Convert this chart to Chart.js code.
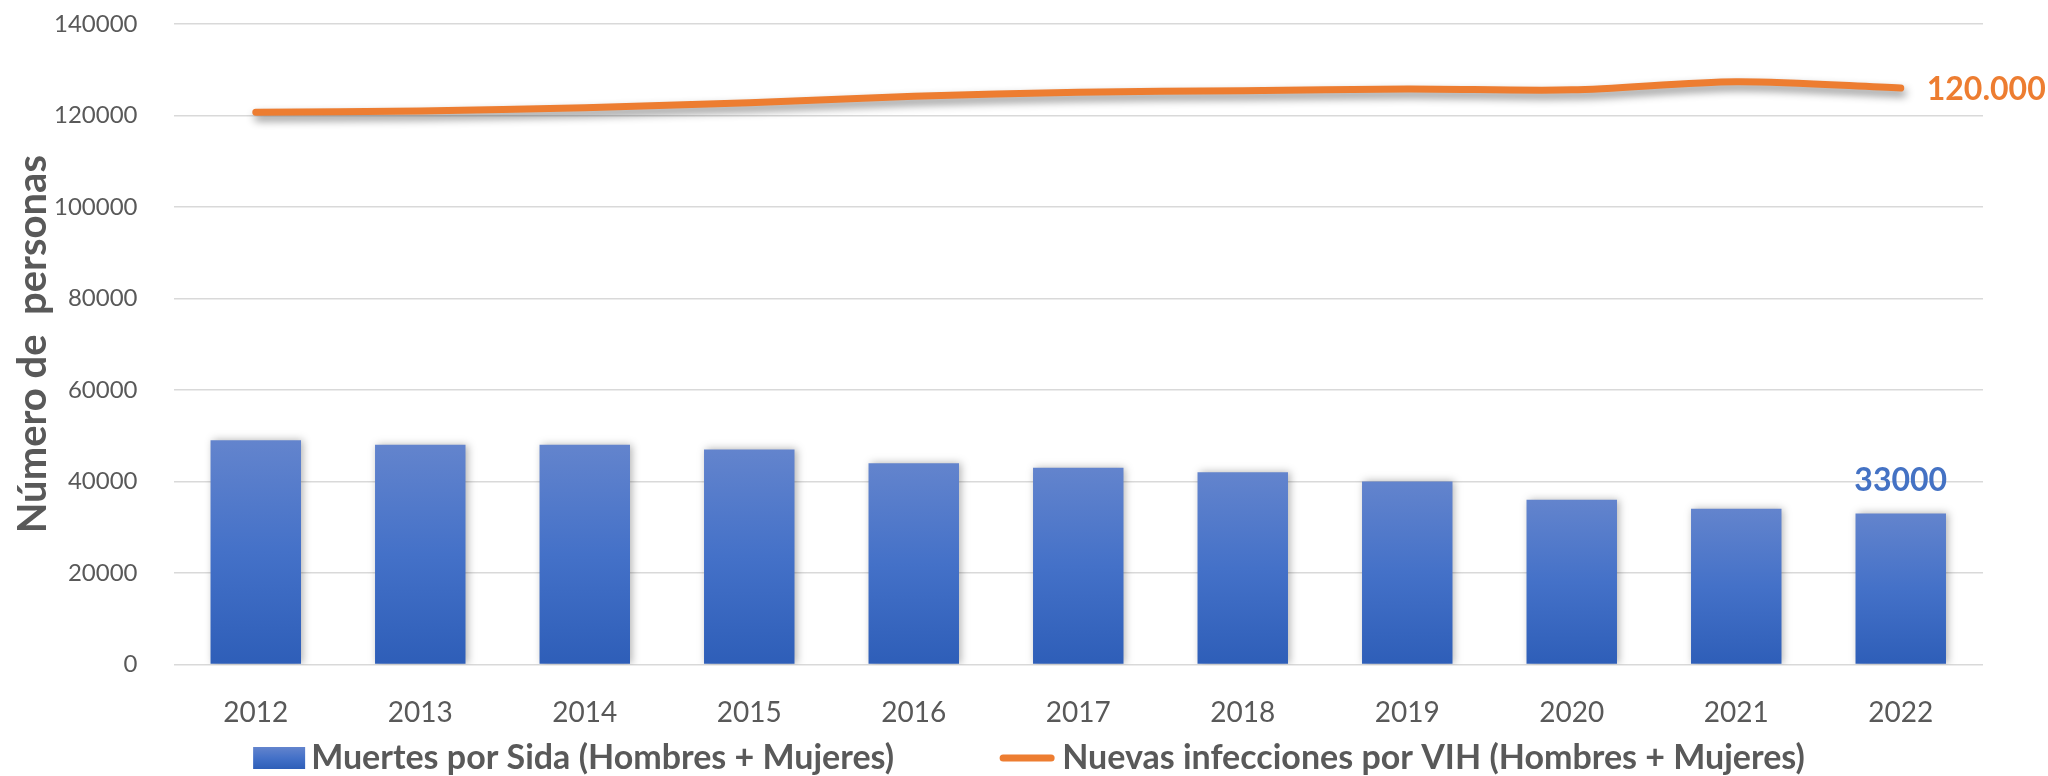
<!DOCTYPE html>
<html>
<head>
<meta charset="utf-8">
<script src="https://cdn.jsdelivr.net/npm/chart.js@4/dist/chart.umd.min.js"></script>
<style>
  html, body { margin: 0; padding: 0; background: #fff; }
  #wrap { width: 2048px; height: 776px; }
</style>
</head>
<body>
<div id="wrap"><canvas id="grafico" width="2048" height="776"></canvas></div>
<script>
// --- Datos ---
const anios = ['2012', '2013', '2014', '2015', '2016', '2017', '2018', '2019', '2020', '2021', '2022'];
const muertesSida = [49000, 48000, 48000, 47000, 44000, 43000, 42000, 40000, 36000, 34000, 33000];
const nuevasInfecciones = [120700, 121000, 121700, 122800, 124200, 125100, 125400, 125800, 125600, 127400, 126000];
const etiquetaFinalMuertes = '33000';
const etiquetaFinalInfecciones = '120.000';
const ticksY = [0, 20000, 40000, 60000, 80000, 100000, 120000, 140000];

const AZUL = '#4472C4';
const NARANJA = '#ED7D31';
const GRIS_TEXTO = '#595959';
const FUENTE = 'Lato, "Open Sans", sans-serif';

// degradado vertical (claro arriba, oscuro abajo)
function degradado(c, top, base) {
    const g = c.createLinearGradient(0, top, 0, base);
    g.addColorStop(0, '#6384CD');
    g.addColorStop(0.5, '#4471C8');
    g.addColorStop(1, '#2E5EB8');
    return g;
}

function degradadoBarra(ctx) {
    const chart = ctx.chart;
    const y = chart.scales.y;
    if (!y || !ctx.parsed) return AZUL;
    const top = y.getPixelForValue(ctx.parsed.y);
    const base = y.getPixelForValue(0);
    if (!isFinite(top) || !isFinite(base) || top === base) return AZUL;
    return degradado(chart.ctx, top, base);
}

// sombra suave para barras y línea
const sombras = {
    id: 'sombras',
    beforeDatasetDraw(chart, args) {
        const c = chart.ctx;
        c.save();
        if (args.meta.type === 'line') {
            c.shadowColor = 'rgba(0,0,0,0.45)';
            c.shadowBlur = 8;
            c.shadowOffsetX = 2;
            c.shadowOffsetY = 5;
        } else {
            c.shadowColor = 'rgba(0,0,0,0.30)';
            c.shadowBlur = 8;
            c.shadowOffsetX = 2;
            c.shadowOffsetY = 0;
        }
    },
    afterDatasetDraw(chart) {
        chart.ctx.restore();
    }
};

// etiquetas al final de cada serie
const etiquetas = {
    id: 'etiquetas',
    afterDatasetsDraw(chart) {
        const c = chart.ctx;
        c.save();
        c.font = 'bold 32px ' + FUENTE;
        c.textBaseline = 'middle';

        const barras = chart.getDatasetMeta(0).data;
        const ultimaBarra = barras[barras.length - 1];
        c.fillStyle = AZUL;
        c.textAlign = 'center';
        c.fillText(etiquetaFinalMuertes, ultimaBarra.x, ultimaBarra.y - 33);

        const puntos = chart.getDatasetMeta(1).data;
        const ultimo = puntos[puntos.length - 1];
        c.fillStyle = NARANJA;
        c.textAlign = 'left';
        c.fillText(etiquetaFinalInfecciones, ultimo.x + 26, ultimo.y + 2);
        c.restore();
    }
};

// leyenda inferior dibujada a mano (cuadro con degradado + línea naranja)
const leyenda = {
    id: 'leyenda',
    afterDraw(chart) {
        const c = chart.ctx;
        const ds = chart.data.datasets;
        const yc = 758;
        c.save();
        c.font = 'bold 34px ' + FUENTE;
        c.textBaseline = 'middle';
        c.textAlign = 'left';
        const w1 = c.measureText(ds[0].label).width;
        const w2 = c.measureText(ds[1].label).width;
        const total = 52 + 6 + w1 + 106 + 54 + 8 + w2;
        let x = 1029 - total / 2;

        c.fillStyle = degradado(c, yc - 11, yc + 11);
        c.fillRect(x, yc - 11, 52, 22);
        x += 58;
        c.fillStyle = GRIS_TEXTO;
        c.fillText(ds[0].label, x, yc);
        x += w1 + 106;

        c.strokeStyle = NARANJA;
        c.lineWidth = 7;
        c.lineCap = 'round';
        c.beginPath();
        c.moveTo(x + 3, yc);
        c.lineTo(x + 51, yc);
        c.stroke();
        x += 62;
        c.fillText(ds[1].label, x, yc);
        c.restore();
    }
};

const ctx = document.getElementById('grafico').getContext('2d');
new Chart(ctx, {
    data: {
        labels: anios,
        datasets: [
            {
                type: 'bar',
                label: 'Muertes por Sida (Hombres + Mujeres)',
                data: muertesSida,
                backgroundColor: degradadoBarra,
                borderWidth: 0,
                barPercentage: 0.55,
                categoryPercentage: 1,
                order: 1
            },
            {
                type: 'line',
                label: 'Nuevas infecciones por VIH (Hombres + Mujeres)',
                data: nuevasInfecciones,
                borderColor: NARANJA,
                backgroundColor: NARANJA,
                borderWidth: 7,
                borderCapStyle: 'round',
                borderJoinStyle: 'round',
                tension: 0.3,
                pointRadius: 0,
                order: 0
            }
        ]
    },
    options: {
        responsive: false,
        animation: false,
        layout: {
            padding: { left: 9, right: 65, top: 24, bottom: 22 }
        },
        plugins: {
            tooltip: { enabled: false },
            legend: { display: false }
        },
        scales: {
            x: {
                grid: { display: false },
                border: { display: false },
                ticks: {
                    color: GRIS_TEXTO,
                    font: { family: FUENTE, size: 28 },
                    padding: 24
                }
            },
            y: {
                min: 0,
                max: 140000,
                afterBuildTicks: (axis) => {
                    axis.ticks = ticksY.map(v => ({ value: v }));
                },
                grid: {
                    color: '#D9D9D9',
                    lineWidth: 1.5,
                    drawTicks: true,
                    tickLength: 27,
                    tickColor: 'rgba(0,0,0,0)'
                },
                border: { display: false },
                ticks: {
                    color: GRIS_TEXTO,
                    font: { family: FUENTE, size: 24 },
                    padding: 9,
                    callback: (v) => String(v)
                },
                title: {
                    display: true,
                    text: 'Número de  personas',
                    color: GRIS_TEXTO,
                    font: { family: FUENTE, size: 40, weight: 'bold' },
                    padding: { top: 0, bottom: -12 }
                }
            }
        }
    },
    plugins: [sombras, etiquetas, leyenda]
});
</script>
</body>
</html>
